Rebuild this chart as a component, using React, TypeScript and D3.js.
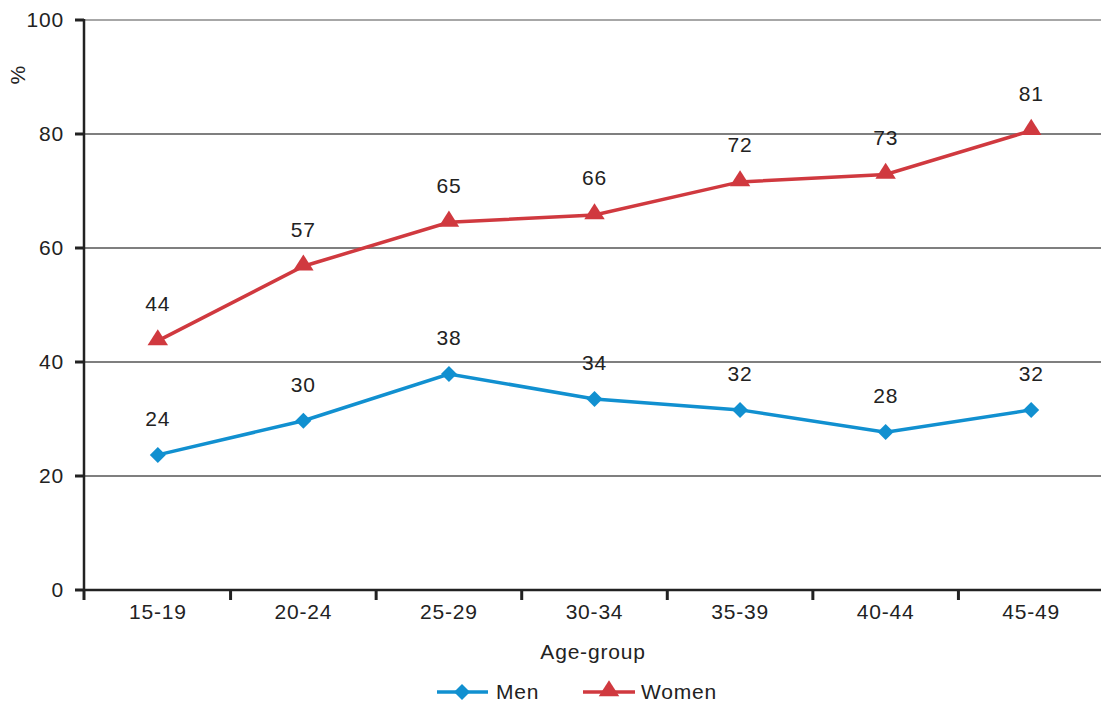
import React from "react";
import * as d3 from "d3";

const categories = ["15-19", "20-24", "25-29", "30-34", "35-39", "40-44", "45-49"];
const menValues = [23.7, 29.7, 37.9, 33.5, 31.6, 27.7, 31.6];
const womenValues = [43.7, 56.8, 64.5, 65.8, 71.6, 72.9, 80.6];
const menLabels = ["24", "30", "38", "34", "32", "28", "32"];
const womenLabels = ["44", "57", "65", "66", "72", "73", "81"];
const yTicks = [0, 20, 40, 60, 80, 100];

const W = 1101;
const H = 702;
const left = 84;
const right = 1101;
const top = 20;
const bottom = 590;
const BLUE = "#1190d0";
const RED = "#d0393f";
const FONT = "'Liberation Sans', Arial, Helvetica, sans-serif";
const FS = 21;
const LS = 0.8;

export default function App() {
  const x = d3.scaleBand<string>().domain(categories).range([left + 1, 1104]).padding(0);
  const y = d3.scaleLinear().domain([0, 100]).range([bottom, top]);
  const cx = (c: string) => (x(c) as number) + x.bandwidth() / 2;

  const line = d3
    .line<number>()
    .x((_, i) => cx(categories[i]))
    .y((d) => y(d));

  const diamond = d3.symbol(d3.symbolSquare, 128)() as string;
  const triangle = d3.symbol(d3.symbolTriangle, 150)() as string;

  return (
    <svg width={W} height={H} style={{ position: "absolute", left: 0, top: 0, fontFamily: FONT, letterSpacing: LS }}>
      <rect width={W} height={H} fill="#fff" />
      {yTicks.filter((t) => t > 0).map((t) => (
        <line key={t} x1={left} x2={right} y1={y(t)} y2={y(t)} stroke={t === 100 ? "#8a8a8a" : "#555"} strokeWidth={1.5} />
      ))}
      {yTicks.map((t) => (
        <g key={"yt" + t}>
          <line x1={left - 9} x2={left} y1={y(t)} y2={y(t)} stroke="#222" strokeWidth={3} />
          <text x={left - 20} y={y(t)} dy="0.35em" textAnchor="end" fontSize={FS} fill="#222">{t}</text>
        </g>
      ))}
      <line x1={left} x2={left} y1={top - 1} y2={bottom + 1} stroke="#222" strokeWidth={2.5} />
      <line x1={left} x2={right} y1={bottom} y2={bottom} stroke="#222" strokeWidth={2.5} />
      {categories.map((c, i) => (
        <g key={"xt" + c}>
          {i > 0 && (
            <line x1={x(c) as number} x2={x(c) as number} y1={bottom} y2={bottom + 10} stroke="#222" strokeWidth={3} />
          )}
          <text x={cx(c)} y={bottom + 29} textAnchor="middle" fontSize={FS} fill="#222">{c}</text>
        </g>
      ))}
      <line x1={left} x2={left} y1={bottom} y2={bottom + 10} stroke="#222" strokeWidth={3} />
      <text transform={`translate(25,${y(90.4)}) rotate(-90)`} textAnchor="middle" fontSize={FS} fill="#222">%</text>
      <text x={593} y={659} textAnchor="middle" fontSize={FS} fill="#222">Age-group</text>

      <path d={line(womenValues) as string} fill="none" stroke={RED} strokeWidth={3.5} />
      {womenValues.map((v, i) => (
        <path key={"wm" + i} d={triangle} transform={`translate(${cx(categories[i])},${y(v) - 1}) scale(1.1,1)`} fill={RED} />
      ))}
      <path d={line(menValues) as string} fill="none" stroke={BLUE} strokeWidth={3.5} />
      {menValues.map((v, i) => (
        <path key={"mm" + i} d={diamond} transform={`translate(${cx(categories[i])},${y(v)}) rotate(45)`} fill={BLUE} />
      ))}
      {womenValues.map((v, i) => (
        <text key={"wl" + i} x={cx(categories[i])} y={y(v) - 37} dy="0.35em" textAnchor="middle" fontSize={FS} fill="#222">{womenLabels[i]}</text>
      ))}
      {menValues.map((v, i) => (
        <text key={"ml" + i} x={cx(categories[i])} y={y(v) - 36} dy="0.35em" textAnchor="middle" fontSize={FS} fill="#222">{menLabels[i]}</text>
      ))}

      <g>
        <line x1={437} x2={488} y1={692} y2={692} stroke={BLUE} strokeWidth={3.5} />
        <path d={diamond} transform="translate(462,692) rotate(45)" fill={BLUE} />
        <text x={496} y={692} dy="0.35em" fontSize={FS} fill="#222">Men</text>
        <line x1={583} x2={635} y1={692} y2={692} stroke={RED} strokeWidth={3.5} />
        <path d={triangle} transform="translate(609,691) scale(1.1,1)" fill={RED} />
        <text x={641} y={692} dy="0.35em" fontSize={FS} fill="#222">Women</text>
      </g>
    </svg>
  );
}
